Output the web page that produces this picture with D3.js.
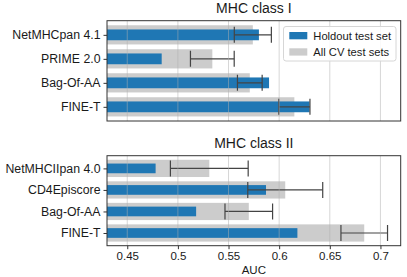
<!DOCTYPE html>
<html><head><meta charset="utf-8">
<script src="https://cdn.jsdelivr.net/npm/d3@7"></script>
<style>body{margin:0;background:#fff}svg{display:block;font-family:"Liberation Sans",Arial,sans-serif}</style>
</head><body><svg id="c" width="407" height="277"></svg>
<script>
const categoriesI = ["NetMHCpan 4.1","PRIME 2.0","Bag-Of-AA","FINE-T"];
const holdoutI = [0.580, 0.484, 0.590, 0.630];
const cvI = [0.574, 0.534, 0.571, 0.615];
const cvErrI = [0.0183, 0.0216, 0.0122, 0.0154];

const categoriesII = ["NetMHCIIpan 4.0","CD4Episcore","Bag-Of-AA","FINE-T"];
const holdoutII = [0.478, 0.587, 0.518, 0.618];
const cvII = [0.531, 0.606, 0.570, 0.684];
const cvErrII = [0.0384, 0.037, 0.0235, 0.023];

const xTicks = [0.45, 0.5, 0.55, 0.6, 0.65, 0.7];
const xTickLabels = ["0.45","0.5","0.55","0.6","0.65","0.7"];
const titles = ["MHC class I","MHC class II"];
const legendLabels = ["Holdout test set","All CV test sets"];
const xLabel = "AUC";

const BLUE = "#1f77b4", GRAY = "#cccccc", ERR = "#444444";
const svg = d3.select("#c");
const x = d3.scaleLinear().domain([0.43, 0.72]).range([107, 400.7]);

function panel(top, bottom, cats, hold, cv, err, title, showX, showLegend) {
  const y = d3.scaleLinear().domain([-0.59, 3.59]).range([top, bottom]);
  const g = svg.append("g");
  const unit = Math.abs(y(1) - y(0));
  const clipId = "clip" + Math.round(top);
  svg.append("clipPath").attr("id", clipId).append("rect")
    .attr("x", x.range()[0]).attr("y", top).attr("width", x.range()[1]-x.range()[0]).attr("height", bottom-top);
  const pg = g.append("g").attr("clip-path", `url(#${clipId})`);
  pg.selectAll(".cv").data(cv).enter().append("rect")
    .attr("x", x(0.43)).attr("width", d => x(d) - x(0.43))
    .attr("y", (d,i) => y(i) - 0.4*unit).attr("height", 0.8*unit).attr("fill", GRAY);
  pg.selectAll(".ho").data(hold).enter().append("rect")
    .attr("x", x(0.43)).attr("width", d => x(d) - x(0.43))
    .attr("y", (d,i) => y(i) - 0.225*unit).attr("height", 0.45*unit).attr("fill", BLUE);
  const eg = pg.selectAll(".err").data(cv).enter().append("g").attr("stroke", ERR).attr("stroke-width", 1.2);
  eg.append("line").attr("x1", (d,i) => x(d - err[i])).attr("x2", (d,i) => x(d + err[i]))
    .attr("y1", (d,i) => y(i)).attr("y2", (d,i) => y(i));
  eg.append("line").attr("x1", (d,i) => x(d - err[i])).attr("x2", (d,i) => x(d - err[i]))
    .attr("y1", (d,i) => y(i)-8).attr("y2", (d,i) => y(i)+8);
  eg.append("line").attr("x1", (d,i) => x(d + err[i])).attr("x2", (d,i) => x(d + err[i]))
    .attr("y1", (d,i) => y(i)-8).attr("y2", (d,i) => y(i)+8);
  pg.selectAll(".grid").data(xTicks).enter().append("line")
    .attr("x1", d => x(d)).attr("x2", d => x(d)).attr("y1", top).attr("y2", bottom)
    .attr("stroke", "#b0b0b0").attr("stroke-opacity", 0.5).attr("stroke-width", 1);
  const yAxis = d3.axisLeft(d3.scaleOrdinal().domain(cats).range(cats.map((c,i)=>y(i))))
    .tickSize(3.5).tickPadding(3);
  const ya = g.append("g").attr("transform", `translate(${x.range()[0]},0)`).call(yAxis);
  ya.select(".domain").remove();
  ya.selectAll("text").attr("font-size", 12.3).attr("fill", "#1a1a1a").attr("font-family", "Liberation Sans, Arial, sans-serif");
  ya.selectAll("line").attr("stroke", "#333");
  const xAxis = d3.axisBottom(x).tickValues(xTicks).tickFormat((d,i)=>xTickLabels[i]).tickSize(showX?3.5:0).tickPadding(3);
  const xa = g.append("g").attr("transform", `translate(0,${bottom})`).call(xAxis);
  xa.select(".domain").remove();
  xa.selectAll("line").attr("stroke", "#333");
  xa.selectAll("text").attr("font-size", 11.5).attr("fill", "#1a1a1a").attr("font-family", "Liberation Sans, Arial, sans-serif")
    .style("display", showX ? null : "none");
  g.append("rect").attr("x", x.range()[0]).attr("y", top).attr("width", x.range()[1]-x.range()[0]).attr("height", bottom-top)
    .attr("fill", "none").attr("stroke", "#333").attr("stroke-width", 1);
  g.append("text").attr("x", (x.range()[0]+x.range()[1])/2).attr("y", top - 8.2)
    .attr("text-anchor", "middle").attr("font-size", 14).attr("fill", "#1a1a1a").text(title);
  if (showLegend) {
    const lg = g.append("g");
    lg.append("rect").attr("x", 283.5).attr("y", 26.5).attr("width", 112.5).attr("height", 34.5).attr("rx", 2.5)
      .attr("fill", "#fff").attr("fill-opacity", 0.85).attr("stroke", "#d6d6d6").attr("stroke-width", 1);
    const cols = [BLUE, GRAY];
    legendLabels.forEach((lab, i) => {
      lg.append("rect").attr("x", 289.3).attr("y", 32 + i*16.3).attr("width", 18).attr("height", 7.3).attr("fill", cols[i]);
      lg.append("text").attr("x", 313.3).attr("y", 39.6 + i*16.3).attr("font-size", 11.2).attr("fill", "#1a1a1a").text(lab);
    });
  }
  return g;
}

panel(20.7, 121, categoriesI, holdoutI, cvI, cvErrI, titles[0], false, true);
panel(155.7, 245.7, categoriesII, holdoutII, cvII, cvErrII, titles[1], true, false);

svg.append("text").attr("x", (x.range()[0]+x.range()[1])/2).attr("y", 273.7)
  .attr("text-anchor", "middle").attr("font-size", 11.5).attr("fill", "#1a1a1a").text(xLabel);
</script></body></html>
